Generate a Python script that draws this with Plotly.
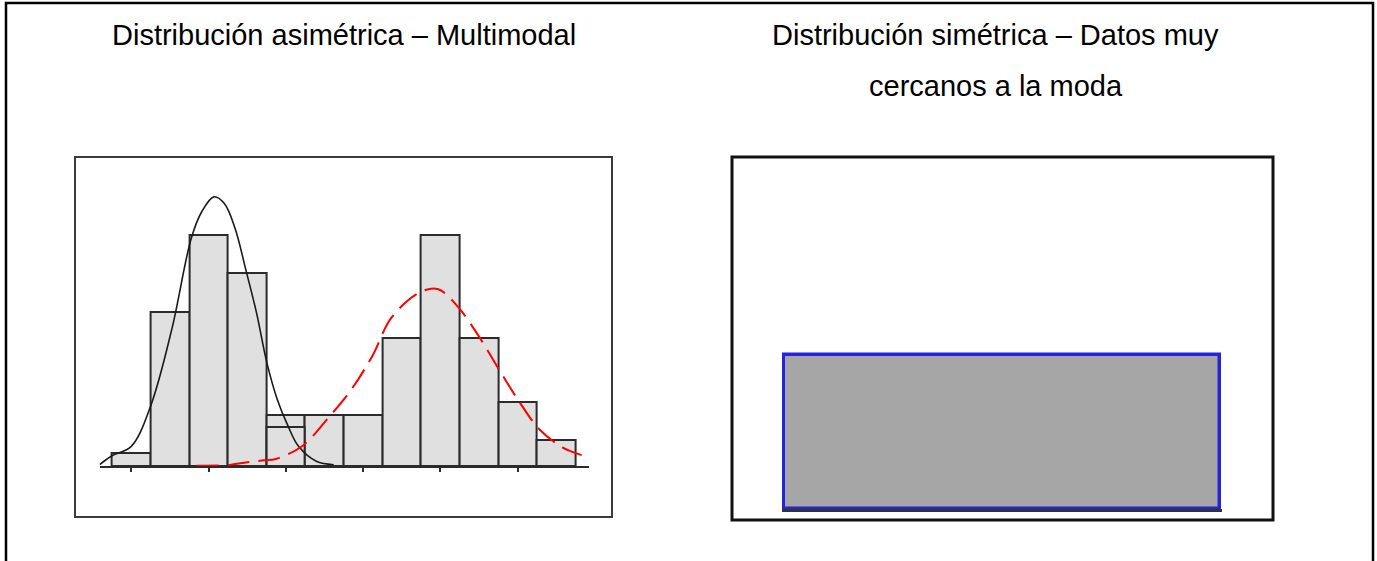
import plotly.graph_objects as go

W, H = 1377, 561

# ---- Data: left panel (multimodal histogram) ----
bin_centers = [1, 2, 3, 4, 5, 6, 7, 8, 9, 10, 11, 12]
counts = [1, 12, 18, 15, 4, 4, 4, 10, 18, 10, 5, 2]
overlap_bin = [5]
overlap_count = [3]
tick_positions = [1, 3, 5, 7, 9, 11]

curve1_x = [0.18, 0.50, 1.00, 1.50, 2.05, 2.55, 2.82, 3.14, 3.41, 3.69, 3.96, 4.24, 4.51, 4.78, 5.06, 5.33, 5.79, 6.24]
curve1_y = [0.10, 0.80, 1.53, 4.66, 10.66, 17.70, 19.78, 20.96, 20.44, 18.48, 15.35, 11.96, 8.05, 5.18, 3.10, 1.53, 0.37, 0.10]

curve2_x = [2.69, 3.41, 3.74, 4.42, 4.74, 5.42, 6.10, 6.70, 7.24, 7.74, 8.47, 8.93, 9.43, 10.02, 10.57, 11.12, 11.57, 12.16, 12.66]
curve2_y = [0.02, 0.05, 0.18, 0.44, 0.55, 1.54, 3.75, 5.97, 8.57, 11.57, 13.52, 13.79, 12.49, 10.0, 7.27, 4.66, 2.84, 1.45, 0.85]

# ---- Data: right panel (single bar) ----
right_x = [1]
right_y = [10]

title_left = "Distribución asimétrica – Multimodal"
title_right_1 = "Distribución simétrica – Datos muy"
title_right_2 = "cercanos a la moda"


def px(x):
    return x / W


def py(y):
    return 1 - y / H


fig = go.Figure()

fig.add_trace(go.Bar(
    x=bin_centers, y=counts, width=1,
    marker=dict(color="#e0e0e0", line=dict(color="#2b2b2b", width=2)),
    xaxis="x", yaxis="y", showlegend=False, hoverinfo="skip",
))
fig.add_trace(go.Bar(
    x=overlap_bin, y=overlap_count, width=1,
    marker=dict(color="#e0e0e0", line=dict(color="#2b2b2b", width=2)),
    xaxis="x", yaxis="y", showlegend=False, hoverinfo="skip",
))
fig.add_trace(go.Scatter(
    x=curve1_x, y=curve1_y, mode="lines",
    line=dict(color="#1a1a1a", width=1.6, shape="spline", smoothing=1.0),
    xaxis="x", yaxis="y", showlegend=False, hoverinfo="skip", cliponaxis=False,
))
fig.add_trace(go.Scatter(
    x=curve2_x, y=curve2_y, mode="lines",
    line=dict(color="#ff0000", width=2, shape="spline", smoothing=1.0, dash="22px,9px"),
    xaxis="x", yaxis="y", showlegend=False, hoverinfo="skip", cliponaxis=False,
))

fig.add_trace(go.Bar(
    x=right_x, y=right_y, width=1,
    marker=dict(color="#a6a6a6", line=dict(color="#2424dc", width=3.5)),
    xaxis="x2", yaxis="y2", showlegend=False, hoverinfo="skip",
))

left_y_top = (466 - 157) / 12.84
right_y_top = right_y[0] * (509 - 157) / (509 - 355)
pad = 2 / (1220 - 784)  # small padding so the bar outline isn't clipped

fig.update_layout(
    width=W, height=H,
    margin=dict(l=0, r=0, t=0, b=0),
    paper_bgcolor="white", plot_bgcolor="rgba(0,0,0,0)",
    barmode="overlay",
    bargap=0,
    xaxis=dict(domain=[px(99.6), px(589)], range=[0.18, 12.85],
               showgrid=False, zeroline=False, showline=True, linecolor="#2b2b2b", linewidth=2,
               ticks="outside", tickvals=tick_positions, ticklen=4, tickwidth=1.5, tickcolor="#2b2b2b",
               showticklabels=False, fixedrange=True),
    yaxis=dict(domain=[py(466), py(157)], range=[0, left_y_top],
               showgrid=False, zeroline=False, showline=False, showticklabels=False, ticks="",
               fixedrange=True),
    xaxis2=dict(domain=[px(782), px(1222)], range=[0.5 - pad, 1.5 + pad], anchor="y2",
                showgrid=False, zeroline=False, showline=True, linecolor="#333333", linewidth=3,
                showticklabels=False, ticks="", fixedrange=True),
    yaxis2=dict(domain=[py(509), py(157)], range=[0, right_y_top], anchor="x2",
                showgrid=False, zeroline=False, showline=False, showticklabels=False, ticks="",
                fixedrange=True),
    font=dict(family="Liberation Sans, Arial, sans-serif", color="black"),
)

shapes = [
    # outer page frame
    dict(type="rect", xref="paper", yref="paper", x0=px(6), x1=px(1373), y0=py(575), y1=py(3),
         line=dict(color="black", width=2.5), fillcolor="rgba(0,0,0,0)", layer="above"),
    # left plot frame
    dict(type="rect", xref="paper", yref="paper", x0=px(75), x1=px(612), y0=py(517), y1=py(157),
         line=dict(color="#3a3a3a", width=2), fillcolor="rgba(0,0,0,0)", layer="above"),
    # right plot frame
    dict(type="rect", xref="paper", yref="paper", x0=px(732), x1=px(1273), y0=py(520), y1=py(157),
         line=dict(color="#111111", width=3), fillcolor="rgba(0,0,0,0)", layer="above"),
]
fig.update_layout(shapes=shapes)

ann_font = dict(family="Liberation Sans, Arial, sans-serif", size=29, color="black")
fig.add_annotation(x=px(343.5), y=py(35), xref="paper", yref="paper", text=title_left,
                   showarrow=False, font=ann_font, xanchor="center", yanchor="middle")
fig.add_annotation(x=px(996), y=py(35), xref="paper", yref="paper", text=title_right_1,
                   showarrow=False, font=ann_font, xanchor="center", yanchor="middle")
fig.add_annotation(x=px(996), y=py(86), xref="paper", yref="paper", text=title_right_2,
                   showarrow=False, font=ann_font, xanchor="center", yanchor="middle")

fig.write_html("out.html", config={"displayModeBar": False},
               post_script="document.body.style.margin='0px';")
